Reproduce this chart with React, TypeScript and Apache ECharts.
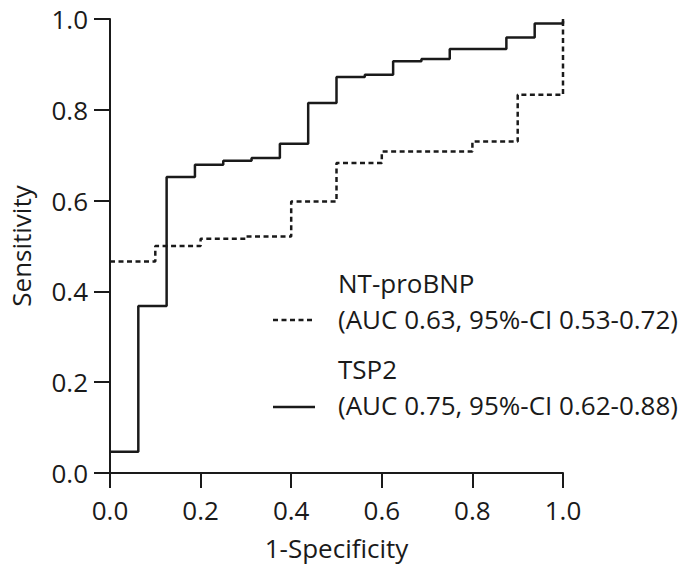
import React, { useEffect, useRef } from "react";
import * as echarts from "echarts";

const tsp2X = [0, 0.0625, 0.125, 0.1875, 0.25, 0.3125, 0.375, 0.4375, 0.5, 0.5625, 0.625, 0.6875, 0.75, 0.875, 0.9375, 1.0];
const tsp2Y = [0.047, 0.368, 0.652, 0.679, 0.688, 0.694, 0.725, 0.815, 0.872, 0.877, 0.907, 0.912, 0.934, 0.959, 0.99, 1.0];

const ntX = [0, 0.1, 0.2, 0.3, 0.4, 0.5, 0.6, 0.8, 0.9, 1.0];
const ntY = [0.466, 0.5, 0.516, 0.521, 0.598, 0.683, 0.708, 0.73, 0.833, 1.0];

const seriesNames = ["NT-proBNP", "TSP2"];
const legendSub = ["(AUC 0.63, 95%-CI 0.53-0.72)", "(AUC 0.75, 95%-CI 0.62-0.88)"];

const FONT = "Open Sans";
const FS = 26;
const INK = "#1a1a1a";

export default function App() {
  const ref = useRef<HTMLDivElement>(null);
  useEffect(() => {
    if (!ref.current) return;
    const chart = echarts.init(ref.current, null, { renderer: "svg" });
    const textStyle = { fontFamily: FONT, fontSize: FS, color: INK };
    chart.setOption({
      animation: false,
      backgroundColor: "#fff",
      grid: { left: 110, right: 126, top: 19, bottom: 105, containLabel: false, outerBoundsMode: "none" },
      xAxis: {
        type: "value",
        min: 0,
        max: 1,
        interval: 0.2,
        name: "1-Specificity",
        nameLocation: "middle",
        nameGap: 62,
        nameTextStyle: textStyle,
        axisLine: { show: true, lineStyle: { color: INK, width: 2 } },
        axisTick: { show: true, length: 15, lineStyle: { color: INK, width: 2 } },
        axisLabel: { ...textStyle, margin: 24, formatter: (v: number) => v.toFixed(1) },
        splitLine: { show: false },
      },
      yAxis: {
        type: "value",
        min: 0,
        max: 1,
        interval: 0.2,
        name: "Sensitivity",
        nameLocation: "middle",
        nameGap: 76,
        nameTextStyle: textStyle,
        axisLine: { show: true, lineStyle: { color: INK, width: 2 } },
        axisTick: { show: true, length: 16, lineStyle: { color: INK, width: 2 } },
        axisLabel: { ...textStyle, margin: 22, formatter: (v: number) => v.toFixed(1) },
        splitLine: { show: false },
      },
      series: [
        {
          name: seriesNames[0],
          type: "line",
          step: "end",
          symbol: "none",
          data: ntX.map((x, i) => [x, ntY[i]]),
          lineStyle: { color: INK, width: 2.5, type: [5, 3.5] },
          z: 3,
        },
        {
          name: seriesNames[1],
          type: "line",
          step: "end",
          symbol: "none",
          data: tsp2X.map((x, i) => [x, tsp2Y[i]]),
          lineStyle: { color: INK, width: 2.5 },
          z: 4,
        },
      ],
      graphic: [
        { type: "line", shape: { x1: 273, y1: 320, x2: 315, y2: 320 }, style: { stroke: INK, lineWidth: 2.5, lineDash: [5, 3.5] } },
        { type: "text", left: 338, top: 270, style: { text: seriesNames[0], font: `${FS}px "${FONT}"`, fill: INK } },
        { type: "text", left: 338, top: 306, style: { text: legendSub[0], font: `${FS}px "${FONT}"`, fill: INK } },
        { type: "line", shape: { x1: 273, y1: 407, x2: 315, y2: 407 }, style: { stroke: INK, lineWidth: 2.5 } },
        { type: "text", left: 338, top: 356, style: { text: seriesNames[1], font: `${FS}px "${FONT}"`, fill: INK } },
        { type: "text", left: 338, top: 392, style: { text: legendSub[1], font: `${FS}px "${FONT}"`, fill: INK } },
      ],
    });
    return () => chart.dispose();
  }, []);
  return <div ref={ref} style={{ width: 689, height: 578, position: "absolute", left: 0, top: 0 }} />;
}
